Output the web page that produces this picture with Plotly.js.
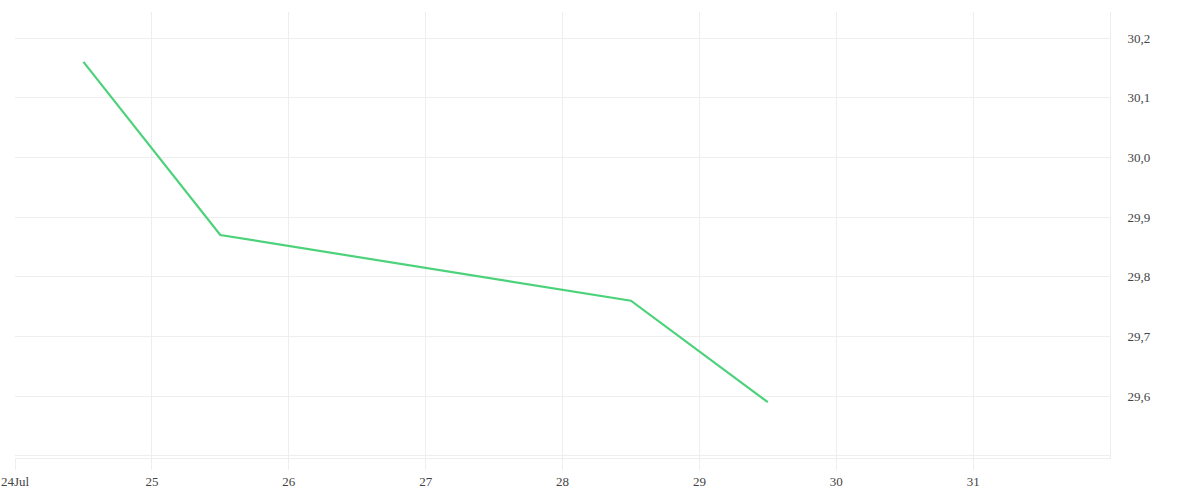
<!DOCTYPE html>
<html>
<head>
<meta charset="utf-8">
<script src="https://cdn.plot.ly/plotly-3.0.1.min.js"></script>
<style>html,body{margin:0;padding:0;background:#fff;}#chart{width:1200px;height:500px;}</style>
</head>
<body>
<div id="chart"></div>
<script>
const dates = ["2024-07-24 12:00", "2024-07-25 12:00", "2024-07-28 12:00", "2024-07-29 12:00"];
const values = [30.16, 29.87, 29.76, 29.59];
const tickDates = ["2024-07-24", "2024-07-25", "2024-07-26", "2024-07-27", "2024-07-28", "2024-07-29", "2024-07-30", "2024-07-31"];
const tickLabels = ["24Jul", "25", "26", "27", "28", "29", "30", "31"];
const yTicks = [29.5, 29.6, 29.7, 29.8, 29.9, 30.0, 30.1, 30.2];
const yLabels = ["", "29,6", "29,7", "29,8", "29,9", "30,0", "30,1", "30,2"];

const trace = {
  x: dates, y: values, type: "scatter", mode: "lines",
  line: {color: "#4cd27a", width: 2.2},
  hoverinfo: "skip"
};
const layout = {
  width: 1200, height: 500,
  margin: {l: 15, r: 90, t: 12, b: 42},
  paper_bgcolor: "#fff", plot_bgcolor: "#fff",
  separators: ", ",
  showlegend: false,
  font: {family: "Liberation Serif, serif", size: 13, color: "#444"},
  xaxis: {
    type: "date",
    range: ["2024-07-24", "2024-08-01"],
    tickmode: "array", tickvals: tickDates, ticktext: tickLabels,
    showgrid: true, gridcolor: "#eeeeee", gridwidth: 1,
    ticks: "outside", ticklen: 11, tickcolor: "#eeeeee",
    showline: true, linecolor: "#eeeeee", linewidth: 1,
    zeroline: false,
    tickfont: {size: 13, color: "#444"}
  },
  yaxis: {
    side: "right",
    range: [29.4965, 30.2436],
    tickmode: "array", tickvals: yTicks, ticktext: yLabels,
    showgrid: true, gridcolor: "#eeeeee", gridwidth: 1,
    showline: true, linecolor: "#eeeeee", linewidth: 1,
    ticks: "", ticklabelstandoff: 14,
    zeroline: false,
    tickfont: {size: 13, color: "#444"}
  }
};
Plotly.newPlot("chart", [trace], layout, {displayModeBar: false, staticPlot: true});
</script>
</body>
</html>
